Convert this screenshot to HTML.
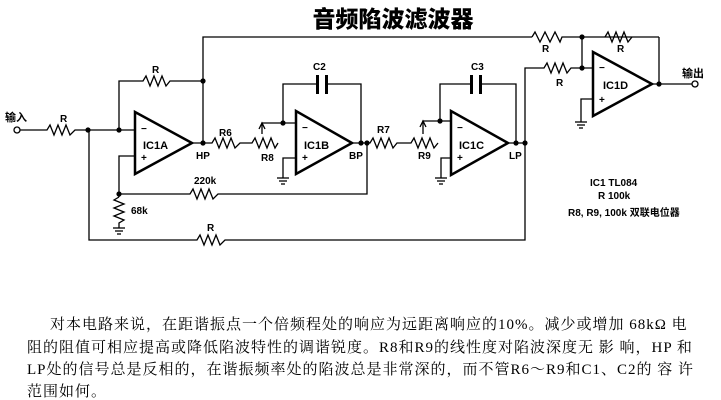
<!DOCTYPE html>
<html><head><meta charset="utf-8"><style>
body{margin:0;background:#fff;}
svg{display:block;}
.t{font-family:"Liberation Sans","Noto Sans CJK SC",sans-serif;font-weight:bold;font-size:10px;fill:#000;}
.p{position:absolute;left:0;top:0;font-family:"Liberation Serif","Noto Serif CJK SC",serif;font-size:15px;letter-spacing:1px;color:#000;}
</style></head><body>
<div style="position:relative;width:721px;height:400px;overflow:hidden;">
<svg width="721" height="400" viewBox="0 0 721 400">
<g fill="none" stroke="#000" stroke-width="1.3">
<polyline points="203,143 203,37 532,37"/>
<polyline points="532,37 535,32 540,42 545,32 550,42 555,32 560,42 562,37 659,37"/>
<polyline points="605,37 608,32 612,42 616,32 620,42 624,32 628,42 632,37"/>
<polyline points="659,37 659,84"/>
<line x1="582" y1="37" x2="582" y2="68"/>
<polyline points="119,130 119,81 143,81 146,76 150,86 154,76 158,86 162,76 166,86 170,81 203,81"/>
<polyline points="20,130 47,130 50,125 54,135 58,125 62,135 66,125 70,135 75,130 135,130"/>
<polyline points="135,156 119,156 119,197"/>
<polyline points="119,197 114,200 124,204 114,208 124,212 114,216 124,220 119,223 119,228"/>
<line x1="113" y1="228" x2="125" y2="228"/><line x1="115" y1="231" x2="123" y2="231"/><line x1="117" y1="234" x2="121" y2="234"/>
<polyline points="119,194 190,194 193,189 197,199 201,189 205,199 209,189 213,199 218,194 367,194 367,143"/>
<polyline points="89,130 89,240 197,240 200,235 204,245 208,235 212,245 216,235 220,245 225,240 525,240 525,143"/>
<polyline points="192,143 212,143 215,138 219,148 223,138 227,148 231,138 235,148 240,143 252,143 255,138 259,148 263,138 267,148 271,138 275,148 278,143"/>
<polyline points="262,134 262,123 296,123"/>
<polyline points="259,129 262,123 265,129"/>
<polyline points="283,123 283,84 317,84"/>
<polyline points="327,84 361,84 361,143"/>
<polyline points="296,158 283,158 283,178"/>
<line x1="277" y1="178" x2="289" y2="178"/><line x1="279" y1="181" x2="287" y2="181"/><line x1="281" y1="184" x2="285" y2="184"/>
<polyline points="353,143 370,143 373,138 377,148 381,138 385,148 389,138 393,148 397,143 411,143 414,138 418,148 422,138 426,148 430,138 434,148 438,143"/>
<polyline points="423,134 423,121 451,121"/>
<polyline points="420,127 423,121 426,127"/>
<polyline points="440,121 440,84 471,84"/>
<polyline points="482,84 516,84 516,143"/>
<polyline points="451,158 441,158 441,178"/>
<line x1="435" y1="178" x2="447" y2="178"/><line x1="437" y1="181" x2="445" y2="181"/><line x1="439" y1="184" x2="443" y2="184"/>
<line x1="508" y1="143" x2="525" y2="143"/>
<polyline points="525,143 525,68 544,68 547,63 551,73 555,63 559,73 563,63 567,73 571,68 593,68"/>
<polyline points="593,99 581,99 581,122"/>
<line x1="575" y1="122" x2="587" y2="122"/><line x1="577" y1="125" x2="585" y2="125"/><line x1="579" y1="128" x2="583" y2="128"/>
<line x1="652" y1="84" x2="692" y2="84"/>
<circle cx="695" cy="84" r="3" fill="#fff"/>
<circle cx="17" cy="130" r="3" fill="#fff"/>
</g>
<rect x="316" y="75" width="3" height="19" fill="#000"/><rect x="325" y="75" width="3" height="19" fill="#000"/>
<rect x="470" y="75" width="3" height="19" fill="#000"/><rect x="479" y="75" width="3" height="19" fill="#000"/>
<g fill="none" stroke="#000" stroke-width="2.5">
<polygon points="135,112 135,174 192,143"/>
<polygon points="296,111 296,174 352,143"/>
<polygon points="451,111 451,175 508,143"/>
<polygon points="593,52 593,116 652,84"/>
</g>
<g fill="#000">
<circle cx="203" cy="81" r="2.6"/><circle cx="203" cy="143" r="2.6"/>
<circle cx="88" cy="130" r="2.6"/><circle cx="119" cy="130" r="2.6"/><circle cx="119" cy="194" r="2.6"/>
<circle cx="283" cy="123" r="2.6"/><circle cx="361" cy="143" r="2.6"/><circle cx="367" cy="143" r="2.6"/>
<circle cx="440" cy="121" r="2.6"/><circle cx="516" cy="143" r="2.6"/><circle cx="525" cy="143" r="2.6"/>
<circle cx="582" cy="37" r="2.6"/><circle cx="582" cy="68" r="2.6"/><circle cx="659" cy="84" r="2.6"/>
</g>
<text x="393" y="27" text-anchor="middle" style="font-family:'Noto Sans CJK SC',sans-serif;font-weight:900;font-size:23px;">音频陷波滤波器</text>
<g class="t">
<text x="5" y="121" style="font-size:11px">输入</text>
<text x="60" y="122">R</text>
<text x="152" y="73">R</text>
<text x="141" y="132">−</text><text x="141" y="161">+</text>
<text x="143" y="149" style="font-size:11px">IC1A</text>
<text x="196" y="159">HP</text>
<text x="219" y="136">R6</text>
<text x="261" y="161">R8</text>
<text x="313" y="70">C2</text>
<text x="302" y="131">−</text><text x="302" y="161">+</text>
<text x="304" y="149" style="font-size:11px">IC1B</text>
<text x="349" y="159">BP</text>
<text x="377" y="133">R7</text>
<text x="418" y="159">R9</text>
<text x="471" y="70">C3</text>
<text x="457" y="131">−</text><text x="457" y="161">+</text>
<text x="459" y="149" style="font-size:11px">IC1C</text>
<text x="509" y="159">LP</text>
<text x="542" y="52">R</text>
<text x="556" y="86">R</text>
<text x="617" y="52">R</text>
<text x="599" y="71">−</text><text x="599" y="103">+</text>
<text x="603" y="89" style="font-size:11px">IC1D</text>
<text x="682" y="77" style="font-size:11px">输出</text>
<text x="131" y="214">68k</text>
<text x="194" y="184">220k</text>
<text x="207" y="231">R</text>
<text x="590" y="186">IC1  TL084</text>
<text x="598" y="199">R  100k</text>
<text x="568" y="216">R8, R9,  100k 双联电位器</text>
</g>
</svg>
<div class="p">
<div style="position:absolute;left:50px;top:313px;white-space:nowrap;">对本电路来说，在距谐振点一个倍频程处的响应为远距离响应的10%。减少或增加 68kΩ 电</div>
<div style="position:absolute;left:27px;top:336px;white-space:nowrap;">阻的阻值可相应提高或降低陷波特性的调谐锐度。R8和R9的线性度对陷波深度无 影 响，HP 和</div>
<div style="position:absolute;left:27px;top:358px;white-space:nowrap;">LP处的信号总是反相的，在谐振频率处的陷波总是非常深的，而不管R6～R9和C1、C2的 容 许</div>
<div style="position:absolute;left:27px;top:380px;white-space:nowrap;">范围如何。</div>
</div>
</div>
</body></html>
